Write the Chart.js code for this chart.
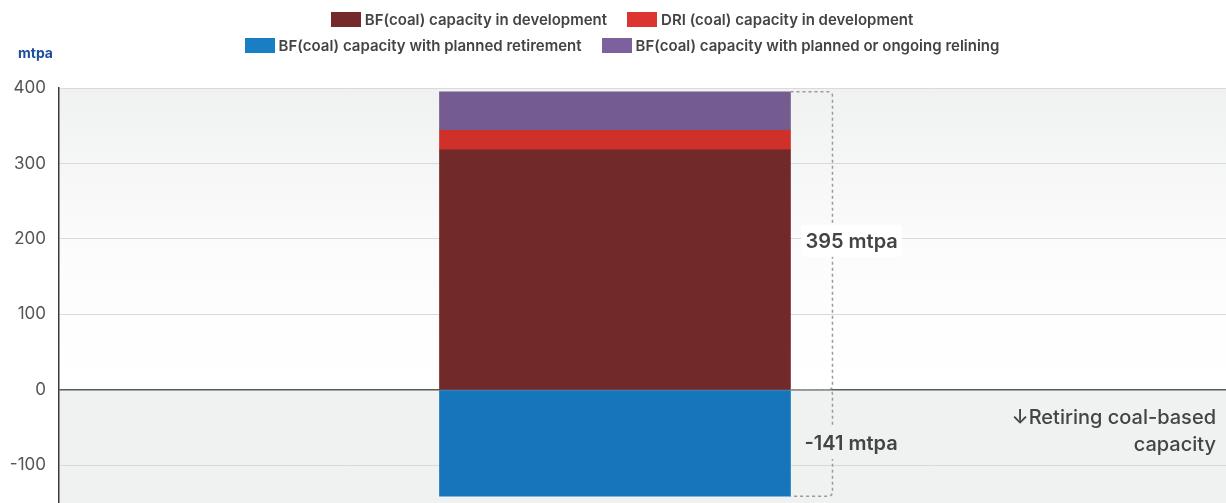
<!DOCTYPE html>
<html>
<head>
<meta charset="utf-8">
<title>Coal-based steelmaking capacity</title>
<script src="https://cdn.jsdelivr.net/npm/chart.js@4.4.1/dist/chart.umd.min.js"></script>
<style>
  html, body { margin: 0; padding: 0; background: #ffffff; overflow: hidden; }
  #wrap { position: relative; width: 1226px; height: 503px; }
  canvas { display: block; }
</style>
</head>
<body>
<div id="wrap"><canvas id="chart" width="1226" height="503"></canvas></div>
<script>
// ---- data -------------------------------------------------------------
const categories = ['Coal-based capacity'];
const bfDevelopment = [318];   // BF(coal) capacity in development
const driDevelopment = [26];   // DRI (coal) capacity in development
const bfRelining = [51];       // BF(coal) capacity with planned or ongoing relining
const bfRetirement = [-141];   // BF(coal) capacity with planned retirement
const yTickValues = [400, 300, 200, 100, 0, -100];
const unitLabel = 'mtpa';
const retiringNote = ['\u2193Retiring coal-based', 'capacity'];

const seriesNames = [
  'BF(coal) capacity in development',
  'DRI (coal) capacity in development',
  'BF(coal) capacity with planned retirement',
  'BF(coal) capacity with planned or ongoing relining'
];
// legend rows, as dataset indices
const legendRows = [[0, 1], [2, 3]];

const FONT = 'Inter, "Noto Sans", "DejaVu Sans", sans-serif';
const TEXT = '#444444';

const toPoints = arr => arr.map((v, i) => ({ x: i, y: v }));

const datasets = [
  { label: seriesNames[0], data: toPoints(bfDevelopment),  backgroundColor: '#72292a', legendColor: '#76292b' },
  { label: seriesNames[1], data: toPoints(driDevelopment), backgroundColor: '#cf312a', legendColor: '#dc3530' },
  { label: seriesNames[2], data: toPoints(bfRetirement),   backgroundColor: '#1776bb', legendColor: '#1a7ec5' },
  { label: seriesNames[3], data: toPoints(bfRelining),     backgroundColor: '#745b90', legendColor: '#7d619e' }
];

// ---- plot background: fading grey above zero, flat grey below ----------
const backgroundBands = {
  id: 'backgroundBands',
  beforeDraw(chart) {
    const { ctx, chartArea: a, scales: { y } } = chart;
    const y0 = y.getPixelForValue(0);
    ctx.save();
    const g = ctx.createLinearGradient(0, a.top, 0, y0);
    g.addColorStop(0, '#f0f1f1');
    g.addColorStop(0.55, '#fcfcfc');
    g.addColorStop(1, '#ffffff');
    ctx.fillStyle = g;
    ctx.fillRect(a.left, a.top, a.right - a.left, y0 - a.top);
    ctx.fillStyle = '#f0f1f1';
    ctx.fillRect(a.left, y0, a.right - a.left, a.bottom - y0);
    ctx.restore();
  }
};

// ---- custom two-row legend and unit label ----------------------------
const topLegend = {
  id: 'topLegend',
  afterDraw(chart) {
    const { ctx } = chart;
    const boxW = 30, boxH = 15, textGap = 4, itemGap = 20;
    const rowY = [19, 45];
    const centerX = 622;
    ctx.save();
    ctx.font = '600 15px ' + FONT;
    ctx.textBaseline = 'middle';
    ctx.textAlign = 'left';
    legendRows.forEach((row, r) => {
      const widths = row.map(i => boxW + textGap + ctx.measureText(chart.data.datasets[i].label).width);
      const total = widths.reduce((s, w) => s + w, 0) + itemGap * (row.length - 1);
      let x = centerX - total / 2;
      row.forEach((i, k) => {
        const ds = chart.data.datasets[i];
        ctx.fillStyle = ds.legendColor;
        ctx.fillRect(Math.round(x), Math.round(rowY[r] - boxH / 2), boxW, boxH);
        ctx.fillStyle = TEXT;
        ctx.fillText(ds.label, x + boxW + textGap, rowY[r] + 1);
        x += widths[k] + itemGap;
      });
    });
    // unit label above the value axis
    ctx.font = 'bold 14px ' + FONT;
    ctx.fillStyle = '#1d4f9e';
    ctx.fillText(unitLabel, 18, 54);
    ctx.restore();
  }
};

// ---- brackets with totals, and the note on retiring capacity ----------
function drawBracket(ctx, x0, x1, yA, yB, r) {
  const top = Math.min(yA, yB), bot = Math.max(yA, yB);
  ctx.beginPath();
  ctx.moveTo(x0, top);
  ctx.lineTo(x1 - r, top);
  ctx.arcTo(x1, top, x1, top + r, r);
  ctx.lineTo(x1, bot - r);
  ctx.arcTo(x1, bot, x1 - r, bot, r);
  ctx.lineTo(x0, bot);
  ctx.stroke();
}

function drawTag(ctx, text, x, y, bg) {
  ctx.font = '600 20px ' + FONT;
  const w = ctx.measureText(text).width;
  ctx.fillStyle = bg;
  ctx.fillRect(x - 4, y - 16, w + 8, 32);
  ctx.fillStyle = TEXT;
  ctx.textAlign = 'left';
  ctx.textBaseline = 'middle';
  ctx.fillText(text, x, y + 1);
}

const annotations = {
  id: 'annotations',
  afterDraw(chart) {
    const { ctx, chartArea: a, scales: { y } } = chart;
    const bar = chart.getDatasetMeta(0).data[0];
    const barRight = bar.x + bar.width / 2;
    const bracketX = barRight + 42;
    const positiveTotal = bfDevelopment[0] + driDevelopment[0] + bfRelining[0];
    const negativeTotal = bfRetirement[0];
    const yTop = y.getPixelForValue(positiveTotal);
    const y0 = y.getPixelForValue(0);
    const yNeg = y.getPixelForValue(negativeTotal);

    ctx.save();
    ctx.strokeStyle = '#9a9a9a';
    ctx.lineWidth = 1.5;
    ctx.setLineDash([3, 3]);
    drawBracket(ctx, barRight, bracketX, yTop, y0, 4);
    drawBracket(ctx, barRight, bracketX, y0, yNeg, 4);
    ctx.setLineDash([]);

    drawTag(ctx, positiveTotal + ' ' + unitLabel, barRight + 15, (yTop + y0) / 2, '#ffffff');
    drawTag(ctx, negativeTotal + ' ' + unitLabel, barRight + 14, (y0 + yNeg) / 2, '#f0f1f1');

    ctx.font = '500 20px ' + FONT;
    ctx.fillStyle = TEXT;
    ctx.textAlign = 'right';
    ctx.textBaseline = 'middle';
    retiringNote.forEach((line, i) => ctx.fillText(line, a.right - 10, y0 + 28 + i * 27));
    ctx.restore();
  }
};

new Chart(document.getElementById('chart'), {
  type: 'bar',
  data: { labels: categories, datasets },
  plugins: [backgroundBands, annotations, topLegend],
  options: {
    responsive: false,
    animation: false,
    devicePixelRatio: 1,
    layout: { padding: { top: 88, left: 0, right: 0, bottom: 0 } },
    datasets: { bar: { barThickness: 351, borderWidth: 0 } },
    plugins: { legend: { display: false }, tooltip: { enabled: false } },
    scales: {
      x: {
        type: 'linear',
        stacked: true,
        display: false,
        min: -1,
        max: 1.12,
        grid: { display: false }
      },
      y: {
        stacked: true,
        min: -150,
        max: 400,
        z: 1,
        afterBuildTicks(scale) {
          scale.ticks = yTickValues.map(v => ({ value: v }));
        },
        afterFit(scale) {
          scale.width = 59;
          scale.paddingTop = 0;
          scale.paddingBottom = 0;
        },
        border: { display: true, color: '#3a3a3a', width: 1.5 },
        grid: {
          drawTicks: false,
          color: c => (c.tick && c.tick.value === 0 ? '#5a5a5a' : '#dadada'),
          lineWidth: c => (c.tick && c.tick.value === 0 ? 1.5 : 1)
        },
        ticks: {
          padding: 13,
          color: '#555555',
          font: { family: FONT, size: 17 }
        }
      }
    }
  }
});
</script>
</body>
</html>
